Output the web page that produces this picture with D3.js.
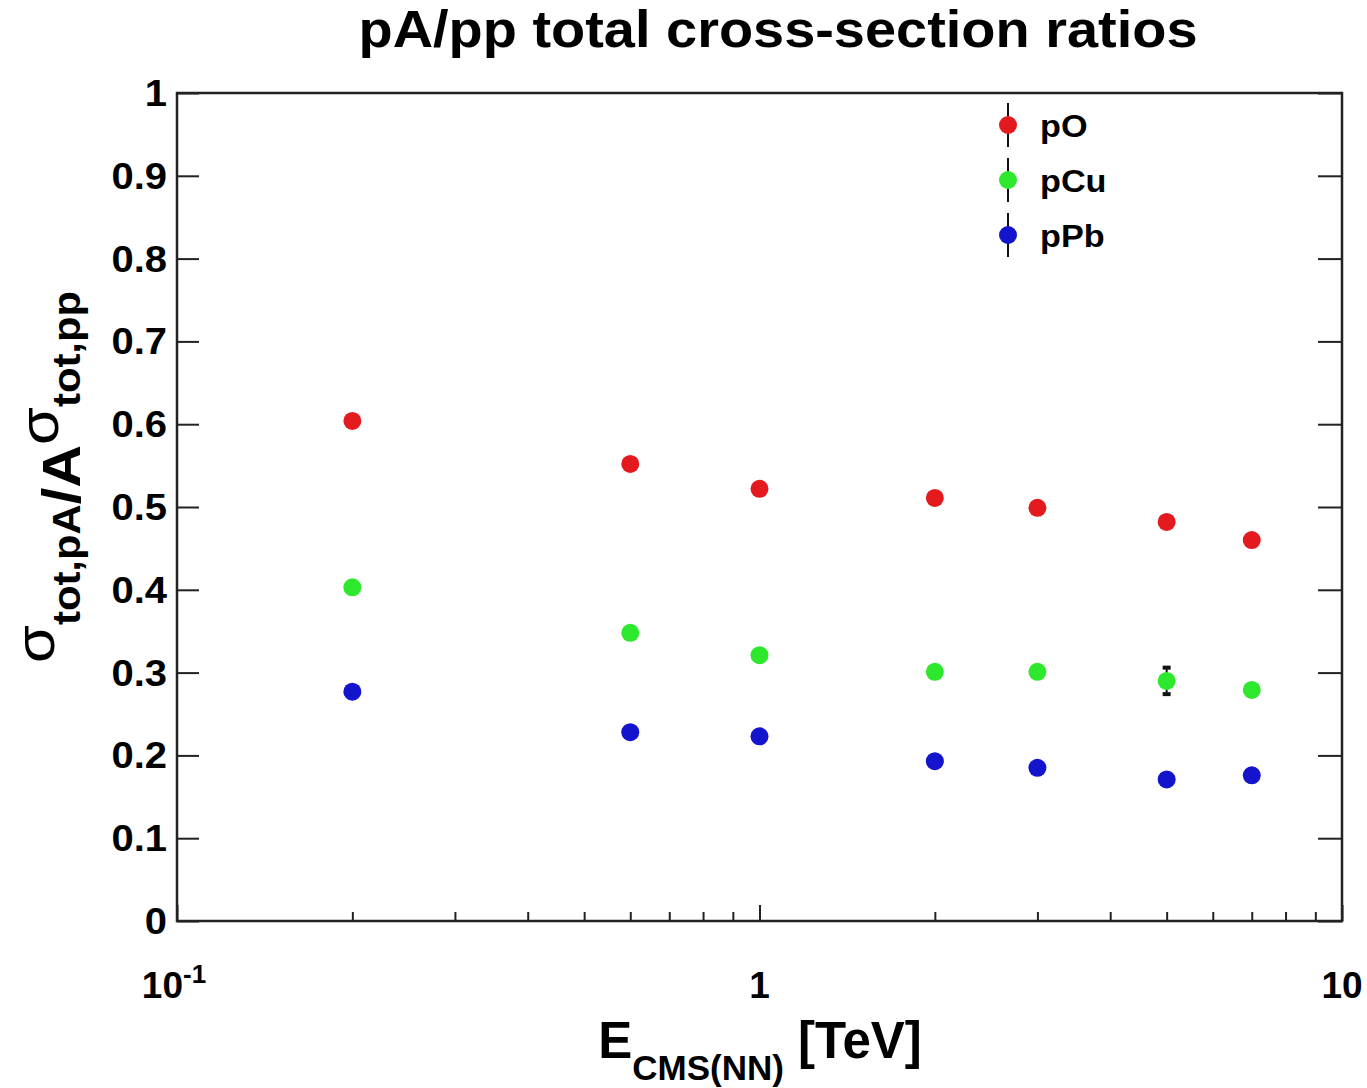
<!DOCTYPE html>
<html><head><meta charset="utf-8">
<script src="https://cdn.jsdelivr.net/npm/d3@7"></script>
<style>
html,body{margin:0;padding:0;background:#fff;}
svg text{font-family:"Liberation Sans",Arial,Helvetica,sans-serif;}
</style></head>
<body>
<svg id="c" width="1367" height="1088"></svg>
<script>
// ---- data ----
const energies = [0.2, 0.6, 1, 2, 3, 5, 7];           // E_CMS(NN) [TeV]
const seriesNames = ["pO", "pCu", "pPb"];
const pO  = [0.604, 0.552, 0.522, 0.511, 0.499, 0.482, 0.460];
const pCu = [0.403, 0.348, 0.321, 0.301, 0.301, 0.290, 0.279];
const pPb = [0.277, 0.228, 0.223, 0.193, 0.185, 0.171, 0.176];
const pOErr  = [0.004, 0.004, 0.004, 0.004, 0.004, 0.004, 0.004];
const pCuErr = [0.004, 0.004, 0.004, 0.004, 0.004, 0.016, 0.004];
const pPbErr = [0.003, 0.003, 0.003, 0.003, 0.003, 0.003, 0.003];
const yTicks = [0, 0.1, 0.2, 0.3, 0.4, 0.5, 0.6, 0.7, 0.8, 0.9, 1];
const yTickLabels = ["0", "0.1", "0.2", "0.3", "0.4", "0.5", "0.6", "0.7", "0.8", "0.9", "1"];
const xMajor = [0.1, 1, 10];
const xMinor = [0.2,0.3,0.4,0.5,0.6,0.7,0.8,0.9,2,3,4,5,6,7,8,9];
const colors = ["#e31a1e", "#2ee82e", "#1414cc"];

const series = [
  {name: seriesNames[0], values: pO,  errs: pOErr,  color: colors[0]},
  {name: seriesNames[1], values: pCu, errs: pCuErr, color: colors[1]},
  {name: seriesNames[2], values: pPb, errs: pPbErr, color: colors[2]},
];

const L = 177, R = 1342, T = 93, B = 921;
const svg = d3.select("#c");
const x = d3.scaleLog().domain([0.1, 10]).range([L, R]);
const y = d3.scaleLinear().domain([0, 1]).range([B, T]);

// title
svg.append("text").attr("x", 778).attr("y", 47).attr("text-anchor", "middle")
  .attr("font-size", 52).attr("font-weight", "bold")
  .attr("textLength", 839).attr("lengthAdjust", "spacingAndGlyphs")
  .text("pA/pp total cross-section ratios");

// frame
svg.append("rect").attr("x", L).attr("y", T).attr("width", R - L).attr("height", B - T)
  .attr("fill", "#fff").attr("stroke", "#222").attr("stroke-width", 2.5);

// y axis (left), ticks inward
const yAxisL = d3.axisLeft(y).tickValues(yTicks).tickSize(-22).tickPadding(0).tickFormat("");
const gyl = svg.append("g").attr("transform", `translate(${L},0)`).call(yAxisL);
gyl.select(".domain").remove();
gyl.selectAll(".tick line").attr("stroke", "#222").attr("stroke-width", 2);
// right ticks
const yAxisR = d3.axisRight(y).tickValues(yTicks).tickSize(-24).tickFormat("");
const gyr = svg.append("g").attr("transform", `translate(${R},0)`).call(yAxisR);
gyr.select(".domain").remove();
gyr.selectAll(".tick line").attr("stroke", "#222").attr("stroke-width", 2);
// y labels
svg.append("g").selectAll("text").data(yTicks).join("text")
  .attr("x", 167).attr("y", d => y(d) + 13).attr("text-anchor", "end")
  .attr("font-size", 37).attr("font-weight", "bold")
  .attr("transform", d => `translate(167,0) scale(1.08,1) translate(-167,0)`)
  .text((d, i) => yTickLabels[i]);

// x axis ticks (bottom, inward)
const xAxisMajor = d3.axisBottom(x).tickValues(xMajor).tickSize(-16).tickFormat("");
const gxM = svg.append("g").attr("transform", `translate(0,${B})`).call(xAxisMajor);
gxM.select(".domain").remove();
gxM.selectAll(".tick line").attr("stroke", "#222").attr("stroke-width", 2);
const xAxisMinor = d3.axisBottom(x).tickValues(xMinor).tickSize(-9).tickFormat("");
const gxm = svg.append("g").attr("transform", `translate(0,${B})`).call(xAxisMinor);
gxm.select(".domain").remove();
gxm.selectAll(".tick line").attr("stroke", "#222").attr("stroke-width", 2);

// x labels
const xl = svg.append("g");
const t01 = xl.append("text").attr("x", x(0.1) - 3).attr("y", 998).attr("text-anchor", "middle")
  .attr("font-size", 37).attr("font-weight", "bold");
t01.append("tspan").text("10");
t01.append("tspan").attr("font-size", 26).attr("dy", -15).text("-1");
xl.append("text").attr("x", x(1)).attr("y", 998).attr("text-anchor", "middle")
  .attr("font-size", 37).attr("font-weight", "bold").text("1");
xl.append("text").attr("x", x(10)).attr("y", 998).attr("text-anchor", "middle")
  .attr("font-size", 37).attr("font-weight", "bold").text("10");

// x title
const xt = svg.append("text").attr("x", 760).attr("y", 1058).attr("text-anchor", "middle")
  .attr("font-weight", "bold");
xt.append("tspan").attr("font-size", 51).text("E");
xt.append("tspan").attr("font-size", 35).attr("dy", 22).text("CMS(NN)");
xt.append("tspan").attr("font-size", 51).attr("dy", -22).text(" [TeV]");

// y title
const yt = svg.append("g").attr("transform", "translate(0,477) rotate(-90)")
  .append("text").attr("x", 0).attr("y", 80).attr("text-anchor", "middle").attr("font-weight", "bold")
  .attr("textLength", 372).attr("lengthAdjust", "spacingAndGlyphs");
yt.append("tspan").attr("font-size", 56).attr("font-weight", "normal").attr("dy", -26).text("σ");
yt.append("tspan").attr("font-size", 38).attr("dy", 26).text("tot,pA");
yt.append("tspan").attr("font-size", 54).attr("dy", 0).text("/A");
yt.append("tspan").attr("font-size", 56).attr("font-weight", "normal").attr("dy", -22).text("σ");
yt.append("tspan").attr("font-size", 38).attr("dy", 22).text("tot,pp");

// data
const g = svg.append("g");
series.forEach(s => {
  const pts = energies.map((e, i) => ({e, v: s.values[i], err: s.errs[i]}));
  const sg = g.append("g");
  sg.selectAll("line.err").data(pts).join("line").attr("class", "err")
    .attr("x1", d => x(d.e)).attr("x2", d => x(d.e))
    .attr("y1", d => y(d.v - d.err)).attr("y2", d => y(d.v + d.err))
    .attr("stroke", "#111").attr("stroke-width", 2);
  sg.selectAll("rect.capL").data(pts.filter(d => d.err > 0.01)).join("rect")
    .attr("x", d => x(d.e) - 4).attr("y", d => y(d.v - d.err) - 2).attr("width", 8).attr("height", 4).attr("fill", "#111");
  sg.selectAll("rect.capU").data(pts.filter(d => d.err > 0.01)).join("rect")
    .attr("x", d => x(d.e) - 4).attr("y", d => y(d.v + d.err) - 2).attr("width", 8).attr("height", 4).attr("fill", "#111");
  sg.selectAll("circle").data(pts).join("circle")
    .attr("cx", d => x(d.e)).attr("cy", d => y(d.v)).attr("r", 9).attr("fill", s.color);
});

// legend
const legY = [125, 180, 235];
const lg = svg.append("g");
series.forEach((s, i) => {
  lg.append("line").attr("x1", 1008).attr("x2", 1008).attr("y1", legY[i] - 22).attr("y2", legY[i] + 22)
    .attr("stroke", "#111").attr("stroke-width", 2);
  lg.append("circle").attr("cx", 1008).attr("cy", legY[i]).attr("r", 9).attr("fill", s.color);
  lg.append("text").attr("x", 1040).attr("y", legY[i] + 12).attr("font-size", 32).attr("font-weight", "bold")
    .attr("transform", `translate(1040,0) scale(1.07,1) translate(-1040,0)`)
    .text(s.name);
});
</script>
</body></html>
